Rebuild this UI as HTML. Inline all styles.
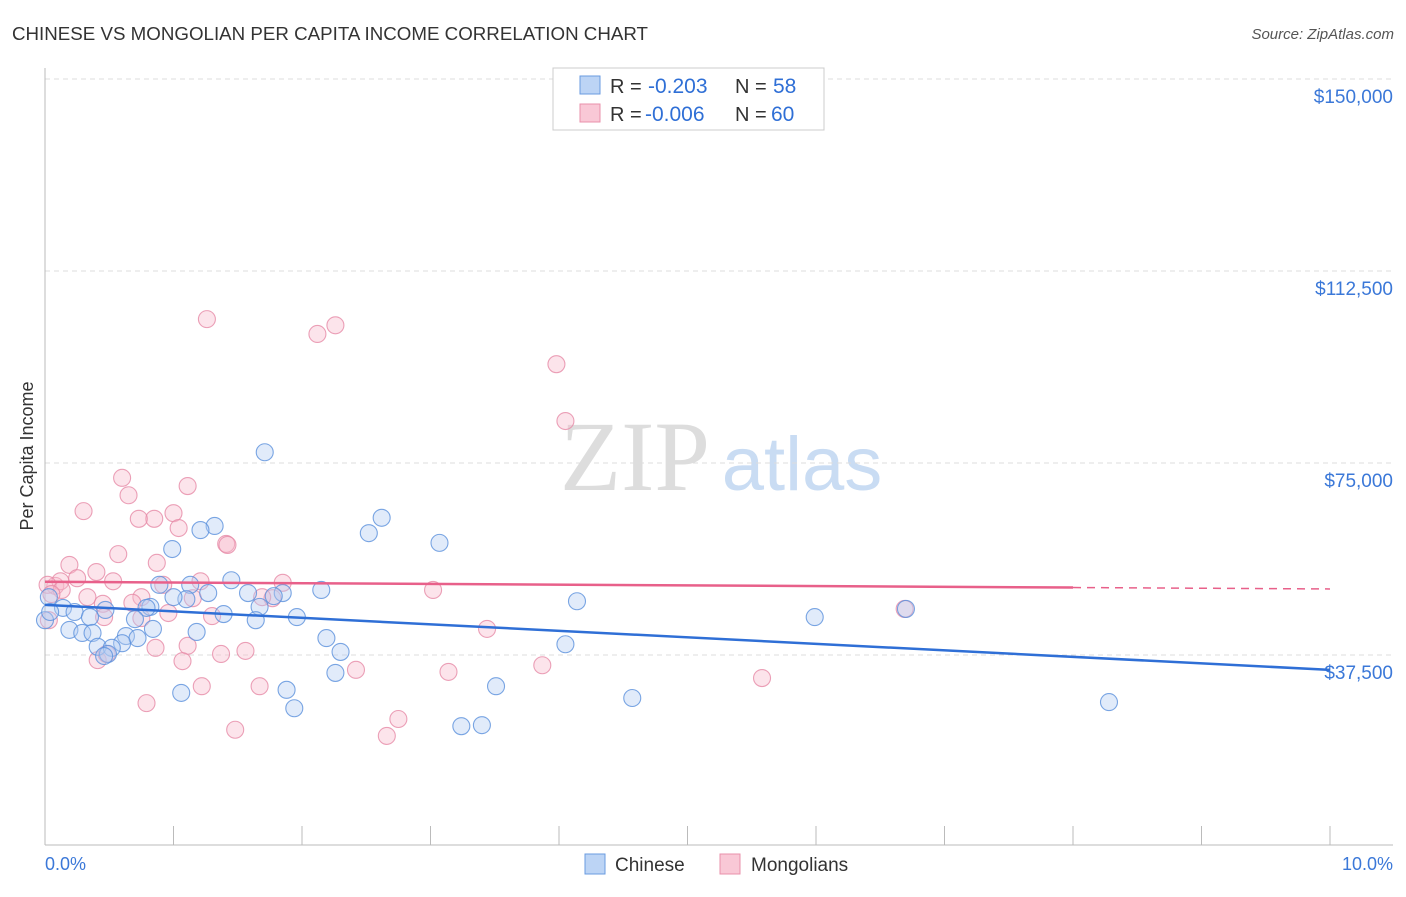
<!DOCTYPE html>
<html><head><meta charset="utf-8"><style>
body{margin:0;background:#fff;font-family:"Liberation Sans",sans-serif}
svg text{font-family:"Liberation Sans",sans-serif}
</style></head><body>
<svg id="chart" width="1406" height="892">
<text x="12" y="40" font-size="18" fill="#333" textLength="636" lengthAdjust="spacingAndGlyphs">CHINESE VS MONGOLIAN PER CAPITA INCOME CORRELATION CHART</text>
<text x="1394" y="39" font-size="15" fill="#555" text-anchor="end" font-style="italic">Source: ZipAtlas.com</text>
<g>
<text x="635" y="490" font-size="100" fill="#ddd" text-anchor="middle" style="font-family:'Liberation Serif',serif">ZIP</text>
<text x="802" y="490" font-size="76" fill="#c9dcf3" text-anchor="middle">atlas</text>
</g>
<g id="grid"></g>
<g id="axes"></g>
<g id="pts"></g>
<g id="trend"></g>
<text x="33" y="456" font-size="18" fill="#333" text-anchor="middle" transform="rotate(-90 33 456)">Per Capita Income</text>
<g>
<rect x="553" y="68" width="271" height="62" fill="#fff" stroke="#ccc"/>
<rect x="580" y="76" width="20" height="18" fill="#bcd4f5" stroke="#6a9be0"/>
<rect x="580" y="104" width="20" height="18" fill="#f9c8d6" stroke="#e990ab"/>
<text x="610" y="93" font-size="20" fill="#333">R =</text>
<text x="648" y="93" font-size="21" fill="#2f6fd6">-0.203</text>
<text x="735" y="93" font-size="20" fill="#333">N =</text>
<text x="773" y="93" font-size="21" fill="#2f6fd6">58</text>
<text x="610" y="121" font-size="20" fill="#333">R =</text>
<text x="645" y="121" font-size="21" fill="#2f6fd6">-0.006</text>
<text x="735" y="121" font-size="20" fill="#333">N =</text>
<text x="771" y="121" font-size="21" fill="#2f6fd6">60</text>
</g>
<text x="45" y="870" font-size="18" fill="#3b78d8">0.0%</text>
<text x="1393" y="870" font-size="18" fill="#3b78d8" text-anchor="end">10.0%</text>
<g>
<rect x="585" y="854" width="20" height="20" fill="#bcd4f5" stroke="#6a9be0"/>
<text x="615" y="871" font-size="19" fill="#333">Chinese</text></g>
<g>
<rect x="720" y="854" width="20" height="20" fill="#f9c8d6" stroke="#e990ab"/>
<text x="751" y="871" font-size="19" fill="#333">Mongolians</text></g>
</svg>
<script>
const yTicks=[37500,75000,112500,150000];
const yTickLabels=["$37,500","$75,000","$112,500","$150,000"];
const xTicks=[0,1,2,3,4,5,6,7,8,9,10];
const chineseX=[1.71,2.62,2.52,1.32,1.21,3.07,0.99,1.45,1.13,0.89,2.15,1.27,1.85,1.58,1.78,1.10,1.00,4.14,0.82,0.79,1.67,1.39,1.96,1.64,0.70,6.70,5.99,0.03,0.14,0.23,0.35,0.47,0.0,0.19,0.29,0.37,0.84,1.18,2.19,2.30,4.05,0.63,0.72,0.60,0.41,0.52,0.49,0.46,2.26,3.51,1.06,1.88,1.94,4.57,3.24,3.40,8.28,0.04];
const chineseY=[77.1,64.3,61.3,62.7,61.9,59.4,58.2,52.1,51.2,51.2,50.2,49.6,49.6,49.6,49.0,48.4,48.8,48.0,46.9,46.7,46.9,45.5,44.9,44.3,44.5,46.5,44.9,48.8,46.7,45.9,44.9,46.3,44.3,42.4,41.8,41.8,42.6,42.0,40.8,38.1,39.6,41.2,40.8,39.8,39.1,38.9,37.7,37.3,34.0,31.4,30.1,30.7,27.1,29.1,23.6,23.8,28.3,45.9];
const mongolX=[1.26,2.26,2.12,3.98,4.05,0.60,0.65,1.11,0.30,0.85,0.73,1.00,1.04,1.41,1.42,0.87,0.57,0.19,0.40,0.08,0.12,0.25,0.53,0.02,0.13,0.05,0.92,1.21,1.85,3.02,0.33,0.75,0.45,0.68,1.15,0.96,1.30,1.77,1.69,0.75,0.46,0.03,1.11,1.37,1.56,0.86,0.41,1.07,0.48,3.44,3.14,2.42,3.87,5.58,1.22,1.67,0.79,1.48,2.75,2.66,6.69];
const mongolY=[103.1,101.9,100.2,94.3,83.2,72.1,68.7,70.5,65.6,64.1,64.1,65.2,62.3,59.2,59.0,55.5,57.2,55.1,53.7,51.0,51.9,52.5,51.9,51.2,50.2,49.4,51.2,51.9,51.6,50.2,48.8,48.8,47.5,47.7,48.6,45.7,45.1,48.6,48.8,44.7,44.9,44.3,39.3,37.7,38.3,38.9,36.5,36.3,37.7,42.6,34.2,34.6,35.5,33.0,31.4,31.4,28.1,22.9,25.0,21.7,46.5];
const chineseTrend=[47.3,34.6];
const mongolTrend=[51.8,50.4];
const NS="http://www.w3.org/2000/svg";
const X0=45,X1=1330,YB=847;
function xs(v){return X0+(X1-X0)*v/10;}
function ys(k){return YB-k*1000/37500*192;}
function mk(tag,attrs,parent){const e=document.createElementNS(NS,tag);for(const k in attrs)e.setAttribute(k,attrs[k]);parent.appendChild(e);return e;}
const grid=document.getElementById('grid'),axes=document.getElementById('axes'),pts=document.getElementById('pts'),trend=document.getElementById('trend');
yTicks.forEach((t,i)=>{
 const l=mk('line',{x1:45,x2:1393,y1:ys(t/1000),y2:ys(t/1000),stroke:'#ddd','stroke-dasharray':'5,4'},grid);
 
 
 const tx=mk('text',{x:1393,y:ys(t/1000)+24,'font-size':19,fill:'#3b78d8','text-anchor':'end'},grid);
 tx.textContent=yTickLabels[i];
 
 
});
const ya=mk('line',{x1:45,x2:45,y1:68,y2:845,stroke:'#bbb'},axes);


const xa=mk('line',{x1:45,x2:1393,y1:845,y2:845,stroke:'#bbb'},axes);


xTicks.forEach(t=>{
 const l=mk('line',{x1:xs(t),x2:xs(t),y1:826,y2:845,stroke:'#bbb'},axes);
 
 
});
function dots(X,Y,fill,stroke,name){
 X.forEach((x,i)=>{
  const c=mk('circle',{cx:xs(x),cy:ys(Y[i]),r:8.5,fill:fill,'fill-opacity':0.4,stroke:stroke,'stroke-opacity':0.8,'stroke-width':1.1},pts);
  
  
 });
}
dots(mongolX,mongolY,'#f7bccd','#e68aa6','mongolian-point');
dots(chineseX,chineseY,'#b3cef3','#5a90dc','chinese-point');
const bl=mk('line',{x1:xs(0),x2:xs(10),y1:ys(chineseTrend[0]),y2:ys(chineseTrend[1]),stroke:'#2f6fd6','stroke-width':2.5},trend);


const pm=v=>mongolTrend[0]+(mongolTrend[1]-mongolTrend[0])*v/10;
const pl=mk('line',{x1:xs(0),x2:xs(8),y1:ys(pm(0)),y2:ys(pm(8)),stroke:'#e8608a','stroke-width':2.5},trend);


const pd=mk('line',{x1:xs(8),x2:xs(10),y1:ys(pm(8)),y2:ys(pm(10)),stroke:'#e8608a','stroke-width':1.5,'stroke-dasharray':'8,6'},trend);


</script>
</body></html>
